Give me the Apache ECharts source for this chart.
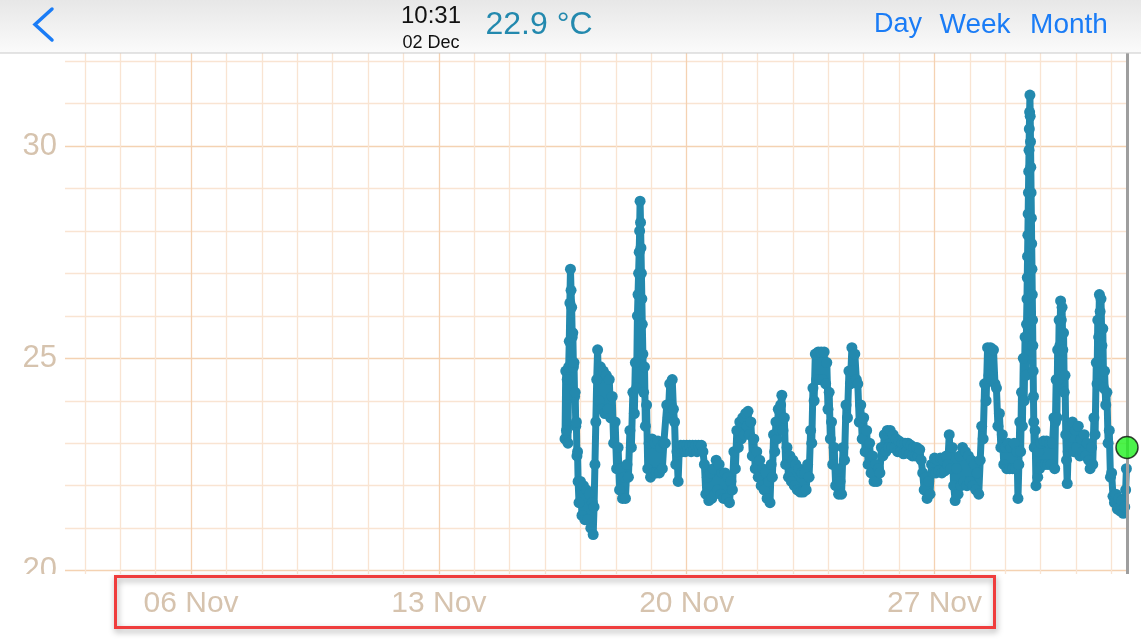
<!DOCTYPE html>
<html>
<head>
<meta charset="utf-8">
<script src="https://cdn.jsdelivr.net/npm/echarts@6/dist/echarts.min.js"></script>
<style>
html,body{margin:0;padding:0;background:#fff;}
#chart{width:1141px;height:640px;}
</style>
</head>
<body>
<div id="chart"></div>
<script>
// ---- data ----
// [hours since 16 Nov 00:00, temperature °C]
const readings = [
[13.5,23.1],[14.0,24.7],[14.5,23.3],[15.0,24.5],[15.5,23.0],[16.0,24.8],[16.4,25.4],[16.8,26.3],[17.2,27.1],[17.6,26.6],[18.0,26.2],[18.4,25.5],[18.8,25.6],[19.2,24.8],[19.6,24.9],[20.0,24.1],[20.4,24.2],[20.8,23.4],[21.2,23.5],[21.6,22.7],[22.0,22.8],[22.4,22.1],
[23,21.6],[24,22.1],[25,21.3],[26,22.0],[27,21.2],[28,21.9],[29,21.2],[30,21.8],[31,21.0],[32,21.6],[32.6,20.85],
[33.2,21.5],[33.8,22.5],[34.4,23.5],[35.0,24.5],[35.6,25.2],
[36.5,24.0],[37.5,24.8],[38.5,23.8],[39.5,24.7],[40.5,23.7],[41.5,24.6],[42.5,23.8],[43.5,24.5],[44.5,23.6],
[45.5,24.1],[46.5,23.0],[47.5,23.5],[48.5,22.4],[49.5,22.9],[50.5,21.9],[51.5,22.4],[52.5,21.7],[53.5,22.2],[54.5,21.7],
[55.5,22.5],[56.5,22.2],[57.5,23.3],[58.5,22.9],[59.5,24.2],[60.5,23.7],[61.2,24.9],[62,24.3],
[62.6,26.0],[63.0,26.5],[63.4,27.0],[63.8,27.5],[64.1,28.0],[64.4,28.7],[64.7,28.2],[65.0,27.6],[65.3,27.0],[65.6,26.4],[65.9,25.8],[66.3,25.1],[66.8,24.2],[67.4,24.8],[68,23.4],[68.8,23.9],[69.6,22.4],
[70.5,23.0],[71.5,22.2],[72.5,23.1],[73.5,22.3],[74.5,23.0],[75.5,22.3],[76.5,23.05],[77.5,22.3],[78.5,22.9],[79.5,22.4],[80.5,23.0],
[81.5,23.0],[82.5,23.9],[83.5,23.6],[84.5,24.4],[85.5,23.9],[86.2,24.5],[87,23.8],[87.8,23.5],[88.6,22.5],[89.4,22.8],[90.2,22.1],[91,22.9],
[92,22.95],[93,22.8],[94,22.95],[95,22.8],[96,22.95],[97,22.85],[98,22.95],[99,22.8],[100,22.95],[101,22.85],[102,22.95],[103,22.8],[104,22.95],[105,22.85],[106,22.95],[107,22.8],
[108,22.5],[109,21.8],[110,22.2],[111,21.65],[112,22.3],[113,21.7],[114,22.4],[115,21.8],[116,22.6],[117,21.9],[118,22.5],[119,21.8],[120,22.3],[121,21.7],[122,22.3],[123,21.7],[124,22.2],[125,21.6],[126,22.1],[127,21.9],
[128,22.8],[129,22.4],[130,23.3],[131,22.9],[132,23.5],[133,23.1],[134,23.6],[135,23.2],[136,23.7],[137,23.4],[137.6,23.75],
[138.5,23.2],[139.5,23.5],[140.5,22.7],[141.5,23.1],[142.5,22.4],[143.5,22.8],[144.5,22.2],[145.5,22.6],[146.5,22.0],[147.5,22.4],[148.5,21.9],[149.5,22.3],[150.5,21.7],[151.5,22.1],[152.5,21.6],
[153.3,22.5],[154.1,22.2],[154.9,23.2],[155.7,22.8],[156.5,23.5],[157.3,23.1],[158.1,23.8],[158.9,23.3],[159.7,23.9],[160.5,24.13],
[161.3,23.3],[162.2,23.6],[163.1,22.5],[164,22.9],[165,22.2],[166,22.7],[167,22.1],[168,22.6],[169,22.0],[170,22.5],[171,21.9],[172,22.4],
[173,21.85],[174,22.3],[175,21.85],[176,22.3],[177,21.9],[178,22.5],[179,22.2],
[180,23.3],[180.8,23.0],[181.6,24.3],[182.4,24.0],[183.2,25.1],[184.2,24.5],[185.2,25.15],[186.2,24.5],[187.2,25.15],[188.2,24.5],[189.2,25.15],[190.2,24.4],[191,24.9],
[191.8,23.8],[192.6,24.2],[193.4,23.1],[194.2,23.5],[195,22.5],[196,22.9],[197,22.0],[198,22.4],[199,21.8],[200,22.1],
[201,21.8],[202,22.9],[203,22.6],[204,23.9],[205,23.6],[206,24.7],[207,24.4],[208,25.25],[209,24.7],[210,25.1],[211,24.5],
[212,24.4],[213,23.5],[214,23.9],[215,23.1],[216,23.6],[217,22.8],[218,23.3],[219,22.5],[220,23.0],[221,22.3],[222,22.7],[223,22.1],[224,22.5],[225,22.1],[226,22.4],
[227,22.3],[228,22.9],[229,22.7],[230,23.2],[231,22.8],[232,23.3],[233,22.9],[234,23.3],[235,22.9],[236,23.2],[237,22.9],
[238,23.1],[239,22.8],[240,23.05],[241,22.8],[242,23.0],[243,22.75],[244,23.0],[245,22.8],[246,23.0],[247,22.75],[248,22.95],[249,22.7],[250,22.9],[251,22.7],[252,22.9],[253,22.7],[254,22.85],[255,22.6],
[256,22.3],[257,21.9],[258,22.2],[259,21.7],[260,22.1],[261,21.8],[262,22.5],
[263,22.3],[264,22.65],[265,22.3],[266,22.6],[267,22.35],[268,22.65],[269,22.3],[270,22.6],[271,22.35],[272,22.7],
[273,22.5],[274,23.2],[275,22.4],[276,22.9],[277,22.0],[278,21.65],[279,22.4],[280,21.8],
[281,22.7],[282,22.0],[283,22.9],[284,22.1],[285,22.8],[286,22.0],[287,22.7],[288,22.1],[289,22.6],[290,22.0],[291,22.5],[292,21.9],[293,22.3],[294,21.8],
[295,22.6],[296,23.4],[297,23.1],[298,24.4],[299,24.0],[300,25.25],[301,24.6],[302,25.25],[303,24.5],[304,25.2],[305,24.4],
[306,24.3],[307,23.4],[308,23.7],[309,22.9],[310,23.2],[311,22.5],[312,22.9],
[313,22.4],[314,23.0],[315,22.4],[316,22.9],[317,22.4],[318,23.0],[319,22.4],[320,22.8],[320.6,21.7],
[321.2,22.5],[321.8,23.5],[322.4,22.8],[323,24.2],[323.6,23.4],[324.2,25.0],[324.8,24.0],[325.4,25.5],[326.0,24.6],
[326.4,25.8],[326.7,26.4],[326.9,26.9],[327.1,27.4],[327.3,27.9],[327.5,28.4],[327.7,28.9],[327.9,29.4],[328.1,29.9],[328.3,30.4],[328.5,30.8],[328.7,31.2],
[328.9,30.7],[329.1,30.1],[329.3,29.5],[329.5,28.9],[329.7,28.3],[329.9,27.7],[330.1,27.1],[330.3,26.5],[330.5,25.9],[330.7,25.3],[330.9,24.7],[331.1,24.1],[331.3,23.5],[331.6,22.9],
[332.2,23.3],[332.8,22.0],[333.4,22.9],[334,22.2],[334.6,22.8],[335.2,22.4],
[336,23.0],[337,22.5],[338,23.05],[339,22.5],[340,23.05],[341,22.5],[342,23.0],[343,22.5],[344,23.0],
[345,23.6],[345.5,22.4],[346,23.5],[346.5,24.5],[347,23.6],[347.5,25.2],[348,24.5],[348.5,25.9],[349,25.3],[349.5,26.35],[350,25.9],[350.5,26.2],[351,25.2],[351.5,25.6],[352,24.2],[352.5,24.6],[353,23.2],[353.5,22.6],[354,22.05],[354.6,22.8],
[355.5,23.4],[356.5,22.9],[357.5,23.5],[358.5,22.8],[359.5,23.3],[360.5,22.9],[361.5,23.4],[362.5,22.7],[363.5,23.1],[364.5,22.8],[365.5,23.2],[366.5,22.7],[367.5,23.0],[368.5,22.6],
[369.5,22.4],[370.5,22.9],[371.3,22.5],[372.1,23.6],[372.9,23.2],[373.7,24.9],[374.2,24.4],[374.7,25.9],[375.3,25.5],[375.8,26.5],[376.3,26.1],[376.9,26.4],[377.5,25.3],[378.1,25.7],[378.7,24.3],[379.3,24.7],[380.1,23.9],[380.9,24.2],[381.7,23.0],[382.5,23.3],[383.3,22.2],[384.1,22.3],[385,21.75],
[386,21.6],[387,21.8],[388,21.45],[389,21.7],[390,21.4],[391,21.65],[392,21.35],[393,21.5],[393.6,21.9],[394.1,22.4]
];
const currentValue = 22.9;            // green dot, "now"
const yLabelValues = [20, 25, 30];
const yGridValues = [20,21,22,23,24,25,26,27,28,29,30,31,32];
const xLabelDays = [6, 13, 20, 27];   // November
const headerTime = '10:31';
const headerDate = '02 Dec';
const headerTemp = '22.9 °C';
const navItems = ['Day', 'Week', 'Month'];

// ---- axis ranges ----
const SERIES_START = new Date(2023, 10, 16, 0, 0).getTime();
const X_MIN = new Date(2023, 10, 2, 10, 31).getTime();
const X_MAX = new Date(2023, 11, 2, 10, 31).getTime();
const Y_MIN = 19.92, Y_MAX = 32.19;

const seriesData = readings.map(r => [SERIES_START + r[0] * 3600000, r[1]]);

const MINOR = '#f9e4d2', MAJOR = '#f4d2b2';
const gridLines = [];
yGridValues.forEach(v => gridLines.push({yAxis: v, lineStyle: {color: yLabelValues.includes(v) ? MAJOR : MINOR, width: 1.3, type: 'solid'}}));
for (let d = 3; d <= 32; d++) {
  const t = new Date(2023, 10, d).getTime();
  gridLines.push({xAxis: t, lineStyle: {color: xLabelDays.includes(d) ? MAJOR : MINOR, width: 1.3, type: 'solid'}});
}
const xLabelValues = xLabelDays.map(d => new Date(2023, 10, d).getTime());

const LABEL = '#d6c3ae';
const FONT = '"Liberation Sans", Arial, Helvetica, sans-serif';
const BLUE = '#1a7cf6';

const chart = echarts.init(document.getElementById('chart'), null, {renderer: 'canvas'});
chart.setOption({
  animation: false,
  backgroundColor: '#ffffff',
  grid: {left: 65, right: 14, top: 53, bottom: 66, containLabel: false},
  xAxis: {
    type: 'value', min: X_MIN, max: X_MAX, scale: true,
    axisLine: {show: false}, axisTick: {show: false}, splitLine: {show: false},
    axisLabel: {
      customValues: xLabelValues, margin: 15,
      color: LABEL, fontSize: 30, fontFamily: FONT,
      formatter: v => { const d = new Date(v); return String(d.getDate()).padStart(2, '0') + ' Nov'; }
    }
  },
  yAxis: {
    type: 'value', min: Y_MIN, max: Y_MAX, scale: true,
    axisLine: {show: false}, axisTick: {show: false}, splitLine: {show: false},
    axisLabel: {customValues: yLabelValues, margin: 8, color: LABEL, fontSize: 31, fontFamily: FONT}
  },
  series: [
    {
      name: 'grid', type: 'line', data: [], z: 1, silent: true,
      markLine: {silent: true, z: 1, symbol: ['none', 'none'], label: {show: false}, animation: false, data: gridLines}
    },
    {
      name: 'temp', type: 'line', data: seriesData, z: 3,
      symbol: 'circle', symbolSize: 11, showSymbol: true,
      itemStyle: {color: '#2389ae'}, lineStyle: {color: '#2389ae', width: 7, join: 'round'},
      markLine: {silent: true, z: 4, symbol: ['none', 'none'], label: {show: false}, animation: false,
        data: [{xAxis: X_MAX, lineStyle: {color: '#9e9e9e', width: 3, type: 'solid'}}]}
    },
    {
      name: 'now', type: 'scatter', data: [[X_MAX, currentValue]], z: 10, clip: false,
      symbolSize: 22, itemStyle: {color: '#1ff01f', borderColor: '#111', borderWidth: 1.5}
    }
  ],
  graphic: [
    {type: 'rect', z: 100, shape: {x: 0, y: 574, width: 112, height: 66}, style: {fill: '#fff'}},
    {type: 'rect', z: 100, shape: {x: 0, y: 0, width: 1141, height: 53},
      style: {fill: new echarts.graphic.LinearGradient(0, 0, 0, 1, [{offset: 0, color: '#e7e7e7'}, {offset: 1, color: '#fbfbfb'}])}},
    {type: 'rect', z: 101, shape: {x: 0, y: 52.5, width: 1141, height: 1}, style: {fill: '#c9c9c9'}},
    {type: 'polyline', z: 102, shape: {points: [[52, 9], [35, 24.5], [52, 40]]}, style: {stroke: BLUE, lineWidth: 3.5, fill: null, lineCap: 'round', lineJoin: 'miter'}},
    {type: 'text', z: 102, x: 431, y: 16, style: {text: headerTime, fill: '#111', font: '24px ' + FONT, align: 'center', verticalAlign: 'middle'}},
    {type: 'text', z: 102, x: 431, y: 43, style: {text: headerDate, fill: '#111', font: '18px ' + FONT, align: 'center', verticalAlign: 'middle'}},
    {type: 'text', z: 102, x: 539, y: 25, style: {text: headerTemp, fill: '#2389ae', font: '32px ' + FONT, align: 'center', verticalAlign: 'middle'}},
    {type: 'text', z: 102, x: 898, y: 25, style: {text: navItems[0], fill: BLUE, font: '27px ' + FONT, align: 'center', verticalAlign: 'middle'}},
    {type: 'text', z: 102, x: 975, y: 25, style: {text: navItems[1], fill: BLUE, font: '28px ' + FONT, align: 'center', verticalAlign: 'middle'}},
    {type: 'text', z: 102, x: 1069, y: 25, style: {text: navItems[2], fill: BLUE, font: '28px ' + FONT, align: 'center', verticalAlign: 'middle'}},
    {type: 'rect', z: 103, shape: {x: 115.5, y: 576.5, width: 879, height: 51},
      style: {fill: null, stroke: '#ef3d3d', lineWidth: 3, shadowBlur: 6, shadowColor: 'rgba(0,0,0,0.35)', shadowOffsetX: 1, shadowOffsetY: 3}}
  ]
});
</script>
</body>
</html>
